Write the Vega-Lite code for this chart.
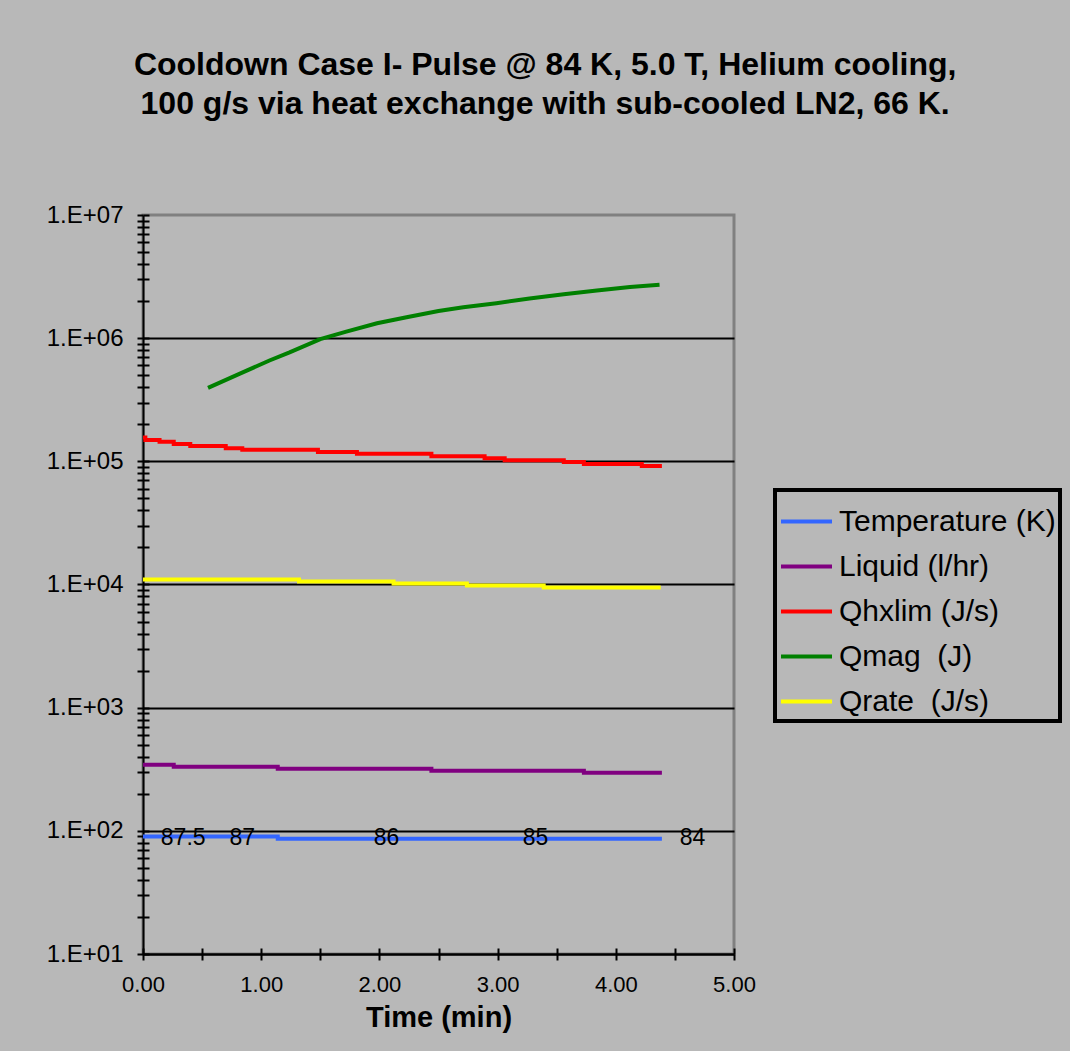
{
  "$schema": "https://vega.github.io/schema/vega-lite/v6.json",
  "width": 591,
  "height": 739,
  "autosize": {"type": "none"},
  "padding": {"left": 143, "top": 215, "right": 336, "bottom": 97},
  "background": "#b8b8b8",
  "title": {
    "text": ["Cooldown Case I- Pulse @ 84 K, 5.0 T, Helium cooling,", "100 g/s via heat exchange with sub-cooled LN2, 66 K."],
    "font": "Liberation Sans",
    "fontSize": 32,
    "fontWeight": "bold",
    "color": "black",
    "anchor": "middle",
    "frame": "bounds",
    "lineHeight": 39,
    "offset": 82,
    "dx": -9
  },
  "datasets": {
    "steps": [
      {"series": "Temperature (K)", "t": 0, "v": 90},
      {"series": "Temperature (K)", "t": 1.14, "v": 86.2},
      {"series": "Temperature (K)", "t": 4.39, "v": 86.2},
      {"series": "Liquid (l/hr)", "t": 0, "v": 344},
      {"series": "Liquid (l/hr)", "t": 0.26, "v": 331},
      {"series": "Liquid (l/hr)", "t": 1.14, "v": 319},
      {"series": "Liquid (l/hr)", "t": 2.44, "v": 307},
      {"series": "Liquid (l/hr)", "t": 3.73, "v": 296},
      {"series": "Liquid (l/hr)", "t": 4.39, "v": 296},
      {"series": "Qhxlim (J/s)", "t": 0, "v": 156000},
      {"series": "Qhxlim (J/s)", "t": 0.02, "v": 149000},
      {"series": "Qhxlim (J/s)", "t": 0.14, "v": 144000},
      {"series": "Qhxlim (J/s)", "t": 0.26, "v": 138000},
      {"series": "Qhxlim (J/s)", "t": 0.4, "v": 133000},
      {"series": "Qhxlim (J/s)", "t": 0.7, "v": 128000},
      {"series": "Qhxlim (J/s)", "t": 0.84, "v": 124000},
      {"series": "Qhxlim (J/s)", "t": 1.48, "v": 119000},
      {"series": "Qhxlim (J/s)", "t": 1.81, "v": 115000},
      {"series": "Qhxlim (J/s)", "t": 2.44, "v": 110000},
      {"series": "Qhxlim (J/s)", "t": 2.89, "v": 106000},
      {"series": "Qhxlim (J/s)", "t": 3.06, "v": 102000},
      {"series": "Qhxlim (J/s)", "t": 3.56, "v": 98700},
      {"series": "Qhxlim (J/s)", "t": 3.73, "v": 95000},
      {"series": "Qhxlim (J/s)", "t": 4.22, "v": 91600},
      {"series": "Qhxlim (J/s)", "t": 4.39, "v": 91600},
      {"series": "Qrate \u00a0(J/s)", "t": 0, "v": 11000},
      {"series": "Qrate \u00a0(J/s)", "t": 1.32, "v": 10570},
      {"series": "Qrate \u00a0(J/s)", "t": 2.12, "v": 10190},
      {"series": "Qrate \u00a0(J/s)", "t": 2.74, "v": 9810},
      {"series": "Qrate \u00a0(J/s)", "t": 3.39, "v": 9450},
      {"series": "Qrate \u00a0(J/s)", "t": 4.38, "v": 9450}
    ],
    "curve": [
      {"series": "Qmag \u00a0(J)", "t": 0.55, "v": 395000},
      {"series": "Qmag \u00a0(J)", "t": 0.82, "v": 516000},
      {"series": "Qmag \u00a0(J)", "t": 1.07, "v": 659000},
      {"series": "Qmag \u00a0(J)", "t": 1.24, "v": 766000},
      {"series": "Qmag \u00a0(J)", "t": 1.5, "v": 982000},
      {"series": "Qmag \u00a0(J)", "t": 1.72, "v": 1130000},
      {"series": "Qmag \u00a0(J)", "t": 1.98, "v": 1320000},
      {"series": "Qmag \u00a0(J)", "t": 2.23, "v": 1480000},
      {"series": "Qmag \u00a0(J)", "t": 2.5, "v": 1660000},
      {"series": "Qmag \u00a0(J)", "t": 2.71, "v": 1780000},
      {"series": "Qmag \u00a0(J)", "t": 2.99, "v": 1920000},
      {"series": "Qmag \u00a0(J)", "t": 3.27, "v": 2100000},
      {"series": "Qmag \u00a0(J)", "t": 3.56, "v": 2270000},
      {"series": "Qmag \u00a0(J)", "t": 3.84, "v": 2440000},
      {"series": "Qmag \u00a0(J)", "t": 4.12, "v": 2600000},
      {"series": "Qmag \u00a0(J)", "t": 4.37, "v": 2710000}
    ],
    "labels": [
      {"t": 0.34, "v": 87.7, "label": "87.5"},
      {"t": 0.84, "v": 87.7, "label": "87"},
      {"t": 2.06, "v": 87.7, "label": "86"},
      {"t": 3.32, "v": 87.7, "label": "85"},
      {"t": 4.65, "v": 87.7, "label": "84"}
    ]
  },
  "layer": [
    {
      "data": {"name": "steps"},
      "mark": {"type": "line", "interpolate": "step-after", "strokeCap": "butt"},
      "encoding": {
        "x": {
          "field": "t", "type": "quantitative",
          "scale": {"domain": [0, 5], "nice": false, "zero": false},
          "axis": {
            "orient": "bottom",
            "values": [0, 0.5, 1, 1.5, 2, 2.5, 3, 3.5, 4, 4.5, 5],
            "labelExpr": "datum.value % 1 == 0 ? format(datum.value, '.2f') : ''",
            "labelOverlap": false,
            "labelFlush": false,
            "labelFont": "Liberation Sans",
            "labelFontSize": 22,
            "labelColor": "black",
            "labelPadding": 14,
            "title": "Time (min)",
            "titleFont": "Liberation Sans",
            "titleFontSize": 29,
            "titleFontWeight": "bold",
            "titleColor": "black",
            "titlePadding": 8,
            "tickSize": 6,
            "tickColor": "black",
            "tickWidth": 2,
            "domainColor": "black",
            "domainWidth": 2,
            "grid": false
          }
        },
        "y": {
          "field": "v", "type": "quantitative",
          "scale": {"type": "log", "domain": [10, 10000000], "nice": false},
          "axis": {
            "orient": "left",
            "values": [10,20,30,40,50,60,70,80,90,100,200,300,400,500,600,700,800,900,1000,2000,3000,4000,5000,6000,7000,8000,9000,10000,20000,30000,40000,50000,60000,70000,80000,90000,100000,200000,300000,400000,500000,600000,700000,800000,900000,1000000,2000000,3000000,4000000,5000000,6000000,7000000,8000000,9000000,10000000],
            "labelExpr": "abs(log(datum.value)/LN10 - round(log(datum.value)/LN10)) < 0.01 ? '1.E+' + format(round(log(datum.value)/LN10), '02d') : ''",
            "labelOverlap": false,
            "labelFont": "Liberation Sans",
            "labelFontSize": 24,
            "labelColor": "black",
            "labelPadding": 14,
            "title": null,
            "tickSize": 6,
            "tickColor": "black",
            "tickWidth": 2,
            "domainColor": "black",
            "domainWidth": 2,
            "grid": true,
            "gridColor": "black",
            "gridWidth": 2,
            "gridOpacity": {"condition": {"test": "datum.value < 5000000 && abs(log(datum.value)/LN10 - round(log(datum.value)/LN10)) < 0.01", "value": 1}, "value": 0}
          }
        },
        "color": {
          "field": "series", "type": "nominal",
          "scale": {
            "domain": ["Temperature (K)", "Liquid (l/hr)", "Qhxlim (J/s)", "Qmag \u00a0(J)", "Qrate \u00a0(J/s)"],
            "range": ["#3366ff", "#800080", "#ff0000", "#008000", "#ffff00"]
          },
          "legend": {
            "orient": "none",
            "legendX": 632,
            "legendY": 275,
            "title": null,
            "symbolType": "stroke",
            "symbolSize": 2601,
            "labelFont": "Liberation Sans",
            "labelFontSize": 30,
            "labelColor": "black",
            "labelLimit": 400,
            "labelOffset": 5,
            "padding": 4,
            "rowPadding": 2,
            "strokeColor": "black",
            "fillColor": "#b8b8b8",
            "encode": {"legend": {"update": {"strokeWidth": {"value": 4}}}}
          }
        },
        "strokeWidth": {
          "field": "series", "type": "nominal",
          "scale": {
            "domain": ["Temperature (K)", "Liquid (l/hr)", "Qhxlim (J/s)", "Qmag \u00a0(J)", "Qrate \u00a0(J/s)"],
            "range": [4, 4, 4, 4, 2]
          }
        }
      }
    },
    {
      "data": {"name": "curve"},
      "mark": {"type": "line", "strokeCap": "butt"},
      "encoding": {
        "x": {"field": "t", "type": "quantitative", "scale": {"domain": [0, 5], "nice": false, "zero": false}, "axis": null},
        "y": {"field": "v", "type": "quantitative", "scale": {"type": "log", "domain": [10, 10000000], "nice": false}, "axis": null},
        "color": {"field": "series", "type": "nominal"},
        "strokeWidth": {"field": "series", "type": "nominal"}
      }
    },
    {
      "data": {"name": "labels"},
      "mark": {"type": "text", "font": "Liberation Sans", "fontSize": 23, "color": "black", "align": "center", "baseline": "middle"},
      "encoding": {
        "x": {
          "field": "t", "type": "quantitative",
          "scale": {"domain": [0, 5], "nice": false, "zero": false},
          "axis": {"orient": "bottom", "offset": -6, "domain": false, "labels": false, "grid": false, "title": null, "tickSize": 6, "tickColor": "black", "tickWidth": 2, "values": [0, 0.5, 1, 1.5, 2, 2.5, 3, 3.5, 4, 4.5, 5]}
        },
        "y": {
          "field": "v", "type": "quantitative",
          "scale": {"type": "log", "domain": [10, 10000000], "nice": false},
          "axis": {"orient": "left", "offset": -6, "domain": false, "labels": false, "grid": false, "title": null, "tickSize": 6, "tickColor": "black", "tickWidth": 2,
            "values": [10,20,30,40,50,60,70,80,90,100,200,300,400,500,600,700,800,900,1000,2000,3000,4000,5000,6000,7000,8000,9000,10000,20000,30000,40000,50000,60000,70000,80000,90000,100000,200000,300000,400000,500000,600000,700000,800000,900000,1000000,2000000,3000000,4000000,5000000,6000000,7000000,8000000,9000000,10000000]}
        },
        "text": {"field": "label", "type": "nominal"}
      }
    }
  ],
  "resolve": {"axis": {"x": "independent", "y": "independent"}},
  "config": {
    "view": {"stroke": "#808080", "strokeWidth": 3, "fill": "#b8b8b8"},
    "font": "Liberation Sans"
  }
}
